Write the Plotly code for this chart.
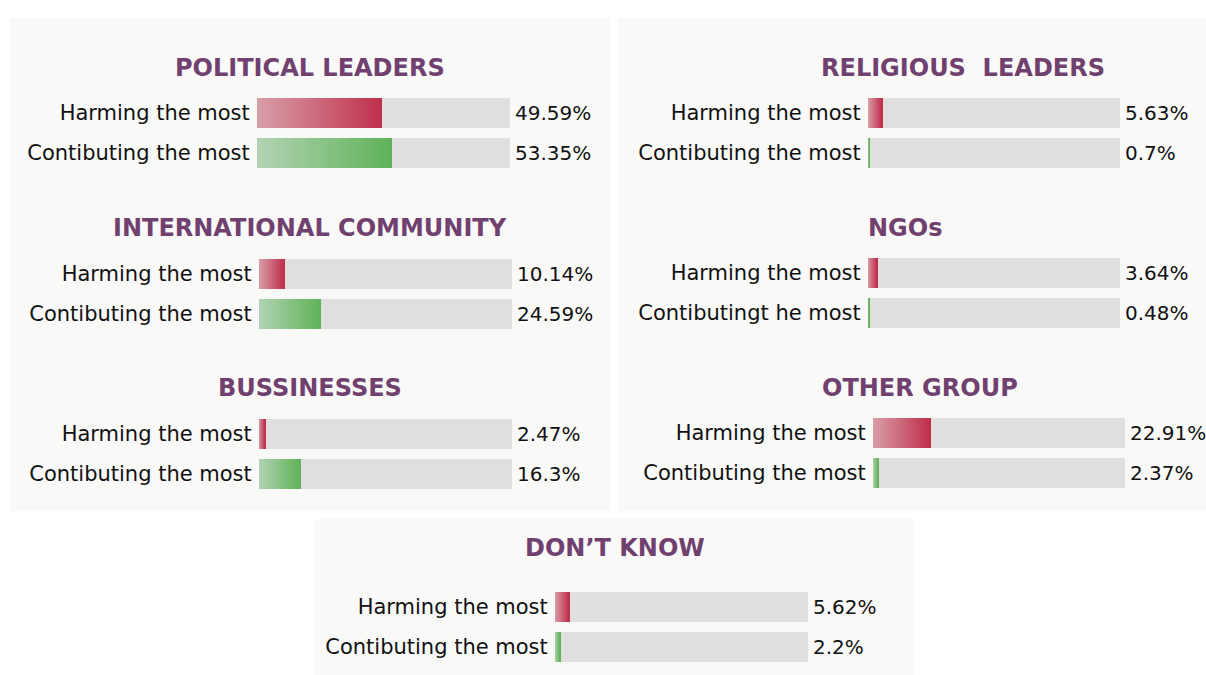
import plotly.graph_objects as go

# reference frame size
W, H = 1206, 675

# ---- data ----
groups = ["POLITICAL LEADERS", "INTERNATIONAL COMMUNITY", "BUSSINESSES",
          "RELIGIOUS\u00a0 LEADERS", "NGOs", "OTHER GROUP", "DON\u2019T KNOW"]
harming = [49.59, 10.14, 2.47, 5.63, 3.64, 22.91, 5.62]
contributing = [53.35, 24.59, 16.3, 0.7, 0.48, 2.37, 2.2]
row_labels = [
    ["Harming the most", "Contibuting the most"],
    ["Harming the most", "Contibuting the most"],
    ["Harming the most", "Contibuting the most"],
    ["Harming the most", "Contibuting the most"],
    ["Harming the most", "Contibutingt he most"],
    ["Harming the most", "Contibuting the most"],
    ["Harming the most", "Contibuting the most"],
]

# ---- layout positions (reference pixels) ----
# track x0, x1, centre y of first row, title centre x, title centre y
pos = [
    (257, 510, 113, 310, 68),
    (259, 512, 274, 310, 228),
    (259, 512, 434, 310, 388),
    (868, 1120, 113, 963, 68),
    (868, 1120, 273, 905, 228),
    (873, 1125, 433, 920, 388),
    (555, 808, 607, 615, 548),
]
panels = [(10, 18, 611, 511), (618, 18, 1206, 511), (314, 519, 914, 675)]

FONT = "DejaVu Sans"
TITLE_FONT = "DejaVu Sans"
TITLE_COLOR = "#70416f"
TRACK = "#e0dfde"
RED = ((216, 158, 168), (192, 48, 77))
GREEN = ((178, 211, 178), (96, 178, 90))
NSEG = 40


def px(x):
    return x / W


def py(y):
    return 1 - y / H


def lerp(c0, c1, t):
    return "rgb(%d,%d,%d)" % tuple(round(a + (b - a) * t) for a, b in zip(c0, c1))


fig = go.Figure()
layout = dict(
    width=W, height=H, margin=dict(l=0, r=0, t=0, b=0),
    paper_bgcolor="white", plot_bgcolor="rgba(0,0,0,0)",
    showlegend=False, barmode="overlay", bargap=0,
    font=dict(family=FONT, color="#111111"),
)
shapes = []
annotations = []

for (x0, y0, x1, y1) in panels:
    shapes.append(dict(type="rect", xref="paper", yref="paper", layer="below",
                       x0=px(x0), x1=px(x1), y0=py(y1), y1=py(y0),
                       fillcolor="#f9f9f8", line=dict(width=0)))

for i, g in enumerate(groups):
    tx0, tx1, yc, cx, cy = pos[i]
    n = i + 1
    xa = "x" if n == 1 else f"x{n}"
    ya = "y" if n == 1 else f"y{n}"
    top = yc - 20
    bot = yc + 60
    layout["xaxis" if n == 1 else f"xaxis{n}"] = dict(
        domain=[px(tx0), px(tx1)], range=[0, 100], visible=False,
        anchor=ya, fixedrange=True)
    layout["yaxis" if n == 1 else f"yaxis{n}"] = dict(
        domain=[py(bot), py(top)], range=[1.5, -0.5], anchor=xa,
        tickvals=[0, 1], ticktext=row_labels[i], showgrid=False,
        zeroline=False, showline=False, ticks="outside", ticklen=2,
        tickcolor="rgba(0,0,0,0)", tickfont=dict(size=21, color="#111111"),
        fixedrange=True)
    # background track
    fig.add_trace(go.Bar(x=[100, 100], y=[0, 1], orientation="h", width=0.75,
                         marker=dict(color=TRACK, line=dict(width=0)),
                         xaxis=xa, yaxis=ya, hoverinfo="skip"))
    # gradient bars
    for r, (v, cols) in enumerate([(harming[i], RED), (contributing[i], GREEN)]):
        seg = v / NSEG
        fig.add_trace(go.Bar(
            x=[seg * 1.15] * (NSEG - 1) + [seg], y=[r] * NSEG,
            base=[k * seg for k in range(NSEG)], orientation="h", width=0.75,
            marker=dict(color=[lerp(cols[0], cols[1], k / (NSEG - 1)) for k in range(NSEG)],
                        line=dict(width=0)),
            xaxis=xa, yaxis=ya, hoverinfo="skip"))
        annotations.append(dict(xref=xa, yref=ya, x=100, y=r, text=f"{v}%",
                                xanchor="left", yanchor="middle", xshift=3,
                                showarrow=False, font=dict(size=20, color="#111111")))
    annotations.append(dict(xref="paper", yref="paper", x=px(cx), y=py(cy),
                            text=f"<b>{g}</b>", xanchor="center", yanchor="middle",
                            showarrow=False,
                            font=dict(size=24, color=TITLE_COLOR, family=TITLE_FONT)))

layout["shapes"] = shapes
layout["annotations"] = annotations
fig.update_layout(**layout)
fig.write_html("out.html", config={"displayModeBar": False},
               post_script="document.body.style.margin='0';document.body.style.overflow='hidden';")
